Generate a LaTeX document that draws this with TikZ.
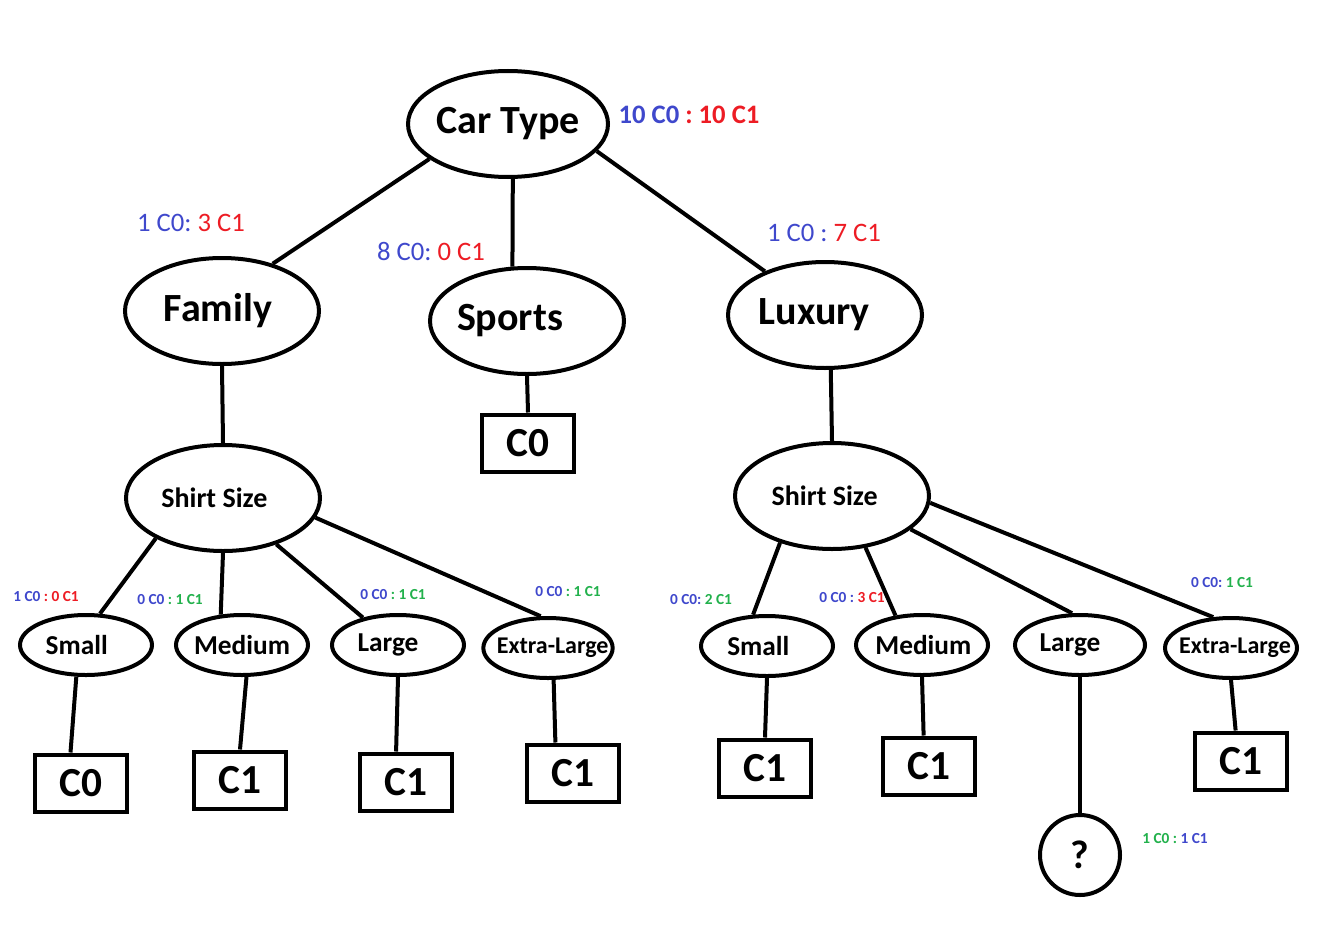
\documentclass[tikz,border=0pt]{standalone}
\usepackage{fontspec}
\setmainfont{Carlito}
\usetikzlibrary{shapes.geometric}

\definecolor{cblue}{RGB}{63,72,204}
\definecolor{cred}{RGB}{237,28,36}
\definecolor{cgreen}{RGB}{34,177,76}

\tikzset{every picture/.style={line width=0.75pt}}
\tikzset{
  bigoval/.style={ellipse, draw, line width=3pt, inner sep=0pt, minimum width=145.5pt, minimum height=79.5pt},
  valoval/.style={ellipse, draw, line width=3pt, inner sep=0pt, minimum width=99pt, minimum height=45pt},
  bigtext/.style={inner sep=0pt, font=\bfseries\fontsize{30}{36}\selectfont},
  sizetext/.style={inner sep=0pt, font=\bfseries\fontsize{21}{24}\selectfont},
  valtext/.style={inner sep=0pt, font=\bfseries\fontsize{20.5}{24}\selectfont},
  xltext/.style={inner sep=0pt, font=\bfseries\fontsize{18}{22}\selectfont},
  leafbox/.style={rectangle, draw, line width=3pt, inner sep=0pt, minimum width=69pt, minimum height=42.75pt, font=\bfseries\fontsize{31}{36}\selectfont},
  branch/.style={line width=3pt},
  bigcount/.style={inner sep=0pt, font=\frenchspacing\fontsize{20}{24}\selectfont},
  smallcount/.style={inner sep=0pt, font=\frenchspacing\bfseries\fontsize{11.5}{14}\selectfont}
}

\begin{document}
\begin{tikzpicture}[x=0.75pt,y=0.75pt,yscale=-1,xscale=1]
\useasboundingbox (0,0) rectangle (1337,924);

%Shape: Ellipse (root)
\node [bigoval, minimum width=150pt, label={[bigtext]center:Car Type}] (cartype) at (508,124) {};
%Shape: Ellipse (level 1)
\node [bigoval, label={[bigtext, xshift=-3pt]center:Family}] (family) at (222,311) {};
\node [bigoval, label={[bigtext, xshift=-12.75pt]center:Sports}] (sports) at (527,321) {};
\node [bigoval, label={[bigtext, xshift=-8pt]center:Luxury}] (luxury) at (825,315) {};
%Shape: Rectangle
\node [leafbox] (sportsleaf) at (528,443) {C0};
%Shape: Ellipse (shirt size)
\node [bigoval, label={[sizetext, xshift=-6.5pt]center:Shirt Size}] (shirtL) at (223,498) {};
\node [bigoval, label={[sizetext, xshift=-5.5pt]center:Shirt Size}] (shirtR) at (832,496) {};

%Shape: Ellipse (left values)
\node [valoval, label={[valtext, xshift=-7pt]center:Small}] (smallL) at (86,645) {};
\node [valoval, label={[valtext]center:Medium}] (mediumL) at (242,645) {};
\node [valoval, label={[valtext, xshift=-7.5pt]center:Large}] (largeL) at (398,645) {};
\node [valoval, minimum width=97pt, label={[xltext, xshift=3.5pt]center:Extra-Large}] (xlL) at (548,648) {};
%Shape: Ellipse (right values)
\node [valoval, label={[valtext, xshift=-6.5pt]center:Small}] (smallR) at (767,646) {};
\node [valoval, label={[valtext, xshift=1pt]center:Medium}] (mediumR) at (922,645) {};
\node [valoval, minimum width=97.5pt, label={[valtext, xshift=-7.5pt]center:Large}] (largeR) at (1080,645) {};
\node [valoval, label={[xltext, xshift=3pt]center:Extra-Large}] (xlR) at (1231,648) {};

%Shape: Rectangle (leaves)
\node [leafbox] (leafSmallL) at (81,783) {C0};
\node [leafbox] (leafMediumL) at (240,780) {C1};
\node [leafbox] (leafLargeL) at (406,782) {C1};
\node [leafbox] (leafXlL) at (573,773) {C1};
\node [leafbox] (leafSmallR) at (765,768) {C1};
\node [leafbox] (leafMediumR) at (929,766) {C1};
\node [leafbox] (leafXlR) at (1241,761) {C1};
%Shape: Circle
\node [circle, draw, line width=3pt, inner sep=0pt, minimum size=60pt, font=\bfseries\fontsize{30}{36}\selectfont] (unknown) at (1080,855) {?};

%Straight Lines
\draw [branch] (cartype.204) -- (family.43);
\draw [branch] (cartype.275) -- (sports.105);
\draw [branch] (cartype.-17) -- (luxury.144);
\draw [branch] (family.south) -- (shirtL.north);
\draw [branch] (sports.south) -- (sportsleaf.north);
\draw [branch] (luxury.276) -- (shirtR.north);
%Straight Lines (left shirt size)
\draw [branch] (shirtL.211) -- (smallL.66);
\draw [branch] (shirtL.south) -- (mediumL.125);
\draw [branch] (shirtL.-41) -- (largeL.142);
\draw [branch] (shirtL.-12) -- (xlL.103);
\draw [branch] (smallL.253) -- (leafSmallL.109);
\draw [branch] (mediumL.278) -- (leafMediumL.north);
\draw [branch] (largeL.south) -- (leafLargeL.108);
\draw [branch] (xlL.280) -- (leafXlL.120);
%Straight Lines (right shirt size)
\draw [branch] (shirtR.222) -- (smallR.114);
\draw [branch] (shirtR.-57) -- (mediumR.132);
\draw [branch] (shirtR.-23) -- (largeR.104);
\draw [branch] (shirtR.-4) -- (xlR.120);
\draw [branch] (smallR.south) -- (leafSmallR.north);
\draw [branch] (mediumR.south) -- (leafMediumR.100);
\draw [branch] (largeR.south) -- (unknown.north);
\draw [branch] (xlR.south) -- (leafXlR.100);

% Text Node
\node [bigcount, font=\frenchspacing\bfseries\fontsize{20}{24}\selectfont] (cntRoot) at (689,115) {\textcolor{cblue}{10 C0} \textcolor{cred}{: 10 C1}};
% Text Node
\node [bigcount] (cntFamily) at (191,223) {\textcolor{cblue}{1 C0:} \textcolor{cred}{3 C1}};
% Text Node
\node [bigcount] (cntSports) at (431,251) {\textcolor{cblue}{8 C0:} \textcolor{cred}{0 C1}};
% Text Node
\node [bigcount] (cntLuxury) at (824,233) {\textcolor{cblue}{1 C0 :} \textcolor{cred}{7 C1}};
% Text Node
\node [smallcount] (cntSmallL) at (46,597) {\textcolor{cblue}{1 C0} \textcolor{cred}{: 0 C1}};
\node [smallcount] (cntMediumL) at (170,600) {\textcolor{cblue}{0 C0} \textcolor{cgreen}{: 1 C1}};
\node [smallcount] (cntLargeL) at (393,595) {\textcolor{cblue}{0 C0} \textcolor{cgreen}{: 1 C1}};
\node [smallcount] (cntXlL) at (568,592) {\textcolor{cblue}{0 C0} \textcolor{cgreen}{: 1 C1}};
% Text Node
\node [smallcount] (cntSmallR) at (701,600) {\textcolor{cblue}{0 C0:} \textcolor{cgreen}{2 C1}};
\node [smallcount] (cntMediumR) at (852,598) {\textcolor{cblue}{0 C0 :} \textcolor{cred}{3 C1}};
\node [smallcount] (cntXlR) at (1222,583) {\textcolor{cblue}{0 C0:} \textcolor{cgreen}{1 C1}};
\node [smallcount] (cntLargeR) at (1175,839) {\textcolor{cgreen}{1 C0 :} \textcolor{cblue}{1 C1}};

\end{tikzpicture}
\end{document}
